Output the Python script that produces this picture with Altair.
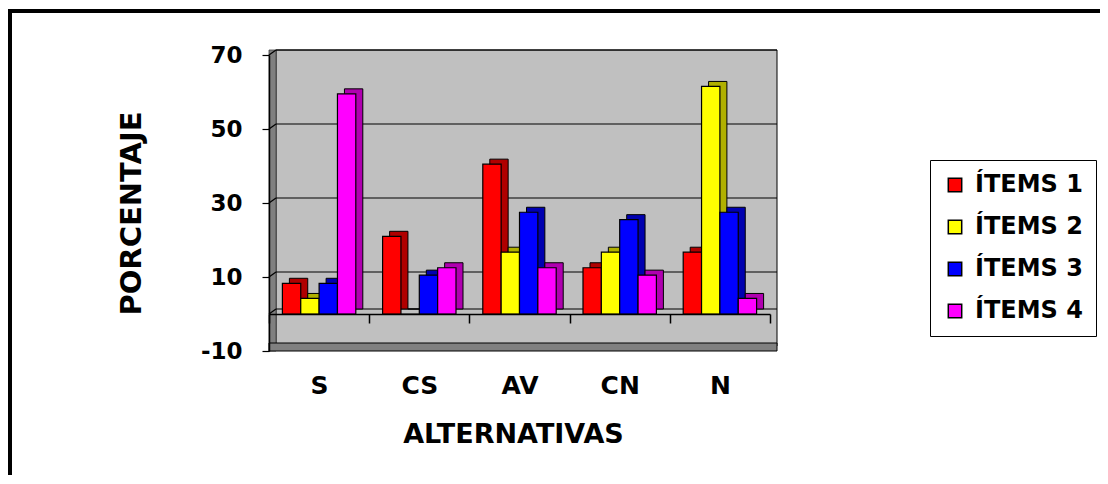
import altair as alt
import pandas as pd

# ---- data ----
categories = ["S", "CS", "AV", "CN", "N"]
series = ["ÍTEMS 1", "ÍTEMS 2", "ÍTEMS 3", "ÍTEMS 4"]
items1 = [8.3, 21.0, 40.5, 12.5, 16.7]
items2 = [4.2, 0.0, 16.7, 16.7, 61.5]
items3 = [8.3, 10.5, 27.5, 25.5, 27.5]
items4 = [59.5, 12.5, 12.5, 10.5, 4.2]
y_ticks = [-10, 10, 30, 50, 70]
wall_lines = [0, 10, 30, 50, 70]

# ---- styles ----
front_colors = ["#FF0000", "#FFFF00", "#0000FF", "#FF00FF"]
side_colors = ["#B00000", "#B0B000", "#0000B0", "#B000B0"]
FONT = "DejaVu Sans"
W, H = 501, 296
DX, DY = 7, 5

rows = []
for s, vals, dark in zip(series, [items1, items2, items3, items4], side_colors):
    for c, v in zip(categories, vals):
        rows.append({"alt": c, "serie": s, "pct": v, "dark": dark})
df = pd.DataFrame(rows)
grid_df = pd.DataFrame({"v": wall_lines})
one = alt.Data(values=[{"k": 1}])

yscale = alt.Scale(domain=[-10, 70], nice=False, zero=False)
xscale = alt.Scale(paddingInner=0, paddingOuter=0)
band = W / len(categories)

y_axis = alt.Axis(title="PORCENTAJE", values=y_ticks, grid=False,
                  labelExpr="'' + datum.value", zindex=2,
                  tickSize=7, tickWidth=1.2, tickColor="black",
                  domainColor="black", domainWidth=1.5,
                  labelPadding=20, titlePadding=54, titleY=158,
                  labelFontSize=23, titleFontSize=29)
x_axis = alt.Axis(title="ALTERNATIVAS", labelAngle=0, offset=-37, zindex=2,
                  tickBand="extent", tickSize=9, tickWidth=1.5,
                  tickColor="black", domainColor="black", domainWidth=1.5,
                  labelPadding=50, titlePadding=23, titleX=244,
                  labelFontSize=25, titleFontSize=27)

# decorative frame lines of the original picture
frame_top = alt.Chart(one).mark_rule(color="black", strokeWidth=4).encode(
    x=alt.value(-264), x2=alt.value(840), y=alt.value(-44))
frame_left = alt.Chart(one).mark_rule(color="black", strokeWidth=4).encode(
    x=alt.value(-259), y=alt.value(-46), y2=alt.value(430))

# 3D walls
back_wall = alt.Chart(one).mark_rect(fill="#C0C0C0", stroke="black", strokeWidth=1).encode(
    x=alt.value(DX), x2=alt.value(W + DX), y=alt.value(-DY), y2=alt.value(H - DY))
side_wall = alt.Chart(one).mark_rect(fill="#808080", stroke="#404040", strokeWidth=0.8).encode(
    x=alt.value(0), x2=alt.value(DX), y=alt.value(-DY), y2=alt.value(H))
floor = alt.Chart(one).mark_rect(fill="#808080", stroke="black", strokeWidth=1).encode(
    x=alt.value(0), x2=alt.value(W + DX), y=alt.value(H - 8), y2=alt.value(H))

grid = alt.Chart(grid_df).mark_rule(color="black", strokeWidth=1.2, yOffset=-DY).encode(
    y=alt.Y("v:Q", scale=yscale, axis=y_axis), x=alt.value(DX), x2=alt.value(W + DX))
grid_diag = alt.Chart(grid_df).mark_rule(color="black", strokeWidth=1.2, y2Offset=-DY).encode(
    y=alt.Y("v:Q", scale=yscale, axis=y_axis), y2=alt.Y2("v"), x=alt.value(0), x2=alt.value(DX))

depth = alt.Chart(df).mark_bar(
    yOffset=-DY, y2Offset=-DY, stroke="black", strokeWidth=1
).encode(
    x=alt.X("alt:N", sort=categories, scale=xscale, axis=x_axis),
    xOffset=alt.XOffset("serie:N", sort=series,
                        scale=alt.Scale(paddingInner=0, paddingOuter=0.73,
                                        range=[DX, band + DX])),
    y=alt.Y("pct:Q", scale=yscale, axis=y_axis),
    fill=alt.Fill("dark:N", scale=None),
)

front = alt.Chart(df).mark_bar(stroke="black", strokeWidth=1.2).encode(
    x=alt.X("alt:N", sort=categories, scale=xscale, axis=x_axis),
    xOffset=alt.XOffset("serie:N", sort=series,
                        scale=alt.Scale(paddingInner=0, paddingOuter=0.73,
                                        range=[0, band])),
    y=alt.Y("pct:Q", scale=yscale, axis=y_axis),
    color=alt.Color("serie:N", sort=series,
                    scale=alt.Scale(domain=series, range=front_colors),
                    legend=alt.Legend(orient="none", legendX=661, legendY=105,
                                      title=None, symbolType="square", symbolSize=180,
                                      symbolStrokeColor="black", symbolStrokeWidth=1.5,
                                      symbolOpacity=1,
                                      labelFont=FONT, labelFontSize=24,
                                      labelFontWeight="bold", labelColor="black",
                                      labelOffset=8, rowPadding=18, padding=13,
                                      strokeColor="black", fillColor="white")),
)

chart = alt.layer(
    frame_top, frame_left, back_wall, side_wall, floor, grid, grid_diag, depth, front
).resolve_scale(xOffset="independent").properties(
    width=W, height=H,
    padding={"left": 261, "top": 47, "right": 330, "bottom": 124},
    autosize=alt.AutoSizeParams(type="none"),
    background="white",
).configure_view(stroke=None).configure_axis(
    labelFont=FONT, titleFont=FONT, labelFontWeight="bold", titleFontWeight="bold",
    labelColor="black", titleColor="black",
)

chart.save("out.html", embed_options={"renderer": "svg", "actions": False})
